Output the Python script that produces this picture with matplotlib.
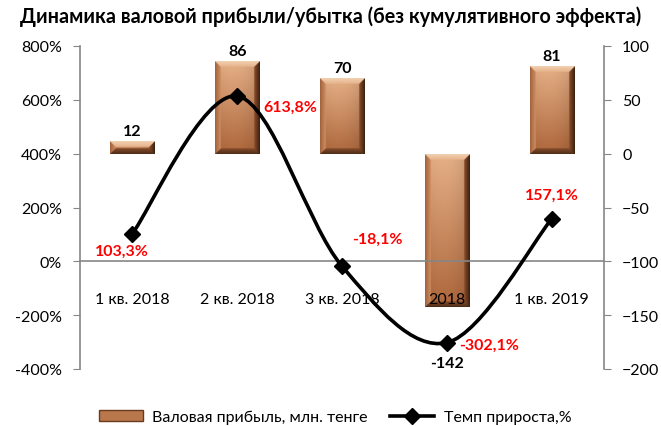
import numpy as np
import matplotlib
matplotlib.use("Agg")
import matplotlib.pyplot as plt
from matplotlib.path import Path
from matplotlib.patches import PathPatch, Rectangle
from matplotlib.lines import Line2D

plt.rcParams['font.family'] = ['Lato', 'DejaVu Sans']

categories = ["1 кв. 2018", "2 кв. 2018", "3 кв. 2018", "2018", "1 кв. 2019"]
gross_profit = [12, 86, 70, -142, 81]            # млн. тенге, right axis
growth_rate = [103.3, 613.8, -18.1, -302.1, 157.1]  # %, left axis
growth_labels = ["103,3%", "613,8%", "-18,1%", "-302,1%", "157,1%"]

# label offsets in pixels (dx, dy)
bar_label_off = [10, 10, 10, -56, 10]
rate_label_off = [(-11, -17), (53, -11), (35, 27), (42, -2), (0, 24)]

GRAY = "#868686"
BAR_W = 0.42


def bevel_image(w, h, b=6):
    w, h = max(int(w), 2), max(int(h), 2)
    yy, xx = np.mgrid[0:h, 0:w]
    dl, dr = xx + 0.5, w - xx - 0.5
    dt, db = yy + 0.5, h - yy - 0.5
    t = yy / max(h - 1, 1)
    top_c = np.array([0.90, 0.69, 0.53])
    bot_c = np.array([0.68, 0.40, 0.23])
    img = top_c * (1 - t[..., None]) + bot_c * t[..., None]
    s = xx / max(w - 1, 1)
    img = img * (1 - 0.10 * (s[..., None] - 0.4) ** 2 * 4)
    dmin = np.minimum.reduce([dl, dr, dt, db])
    facet = np.argmin(np.stack([dt, dl, dr, db]), axis=0)
    depth = (dmin / b)[..., None]
    # top: light peach
    m = (dmin < b) & (facet == 0)
    img[m] = (np.array([0.95, 0.82, 0.70]) * (1 - depth) + np.array([0.90, 0.70, 0.54]) * depth)[m]
    # left: medium
    m = (dmin < b) & (facet == 1)
    img[m] = (np.array([0.62, 0.38, 0.24]) * (1 - depth) + np.array([0.82, 0.56, 0.38]) * depth)[m]
    # right: dark
    m = (dmin < b) & (facet == 2)
    img[m] = (np.array([0.22, 0.12, 0.06]) * (1 - depth) + np.array([0.55, 0.31, 0.17]) * depth)[m]
    # bottom: dark brown
    m = (dmin < b) & (facet == 3)
    img[m] = (np.array([0.30, 0.17, 0.09]) * (1 - depth) + np.array([0.52, 0.30, 0.17]) * depth)[m]
    return np.clip(img, 0, 1)


fig = plt.figure(figsize=(6.61, 4.27), dpi=100)
ax = fig.add_axes([80 / 661, 1 - 370 / 427, 524 / 661, 323 / 427])
ax2 = ax.twinx()
ax.set_zorder(ax2.get_zorder() + 1)
ax.patch.set_visible(False)

x = np.arange(len(categories))

# bars on the secondary axis
ax2.set_ylim(-200, 100)
ax2.set_xlim(-0.5, 4.5)
ax.set_xlim(-0.5, 4.5)
bars = ax2.bar(x, gross_profit, width=BAR_W, color="#c98a5e", edgecolor="none", zorder=2)
ax_w_px = ax.get_position().width * fig.get_figwidth() * fig.dpi
ax_h_px = ax.get_position().height * fig.get_figheight() * fig.dpi
for xi, v, bar in zip(x, gross_profit, bars):
    w_px = BAR_W / 5 * ax_w_px
    h_px = abs(v) / 300 * ax_h_px
    im = ax2.imshow(bevel_image(w_px * 3, h_px * 3, b=17),
                    extent=(xi - BAR_W / 2, xi + BAR_W / 2, min(v, 0), max(v, 0)),
                    aspect="auto", zorder=3, interpolation="bilinear")
    im.set_clip_path(bar)
ax2.set_xlim(-0.5, 4.5)
ax2.set_ylim(-200, 100)
for xi, v, off in zip(x, gross_profit, bar_label_off):
    ax2.annotate(str(v), (xi, v), xytext=(0, off), textcoords="offset pixels",
                 ha="center", va="center", fontsize=11.5, fontweight="bold", color="black")

# smoothed line on the primary axis
pts = np.column_stack([x, growth_rate]).astype(float)
verts = [pts[0]]
codes = [Path.MOVETO]
n = len(pts)
for i in range(n - 1):
    p0 = pts[max(i - 1, 0)]
    p1, p2 = pts[i], pts[i + 1]
    p3 = pts[min(i + 2, n - 1)]
    c1 = p1 + (p2 - p0) / 6
    c2 = p2 - (p3 - p1) / 6
    verts += [c1, c2, p2]
    codes += [Path.CURVE4] * 3
ax.add_patch(PathPatch(Path(verts, codes), facecolor="none", edgecolor="black", lw=2.6, zorder=4,
                       capstyle="round", joinstyle="round"))
ax.plot(x, growth_rate, linestyle="none", marker="D", color="black", markersize=8, zorder=5)
for xi, v, lab, off in zip(x, growth_rate, growth_labels, rate_label_off):
    ax.annotate(lab, (xi, v), xytext=off, textcoords="offset pixels", ha="center", va="center",
                fontsize=11.5, fontweight="bold", color="#ff0000", zorder=6)

ax.set_ylim(-400, 800)
ax.set_yticks(np.arange(-400, 801, 200))
ax.set_yticklabels([f"{t}%" for t in range(-400, 801, 200)])
ax2.set_yticks(np.arange(-200, 101, 50))

# axes styling
ax.spines["bottom"].set_position(("data", 0))
for sp in ["top", "right"]:
    ax.spines[sp].set_visible(False)
for sp in ["top", "left", "bottom"]:
    ax2.spines[sp].set_visible(False)
for sp in ["left", "bottom"]:
    ax.spines[sp].set_color(GRAY)
    ax.spines[sp].set_linewidth(1.2)
ax2.spines["right"].set_color(GRAY)
ax2.spines["right"].set_linewidth(1.2)

ax.set_xticks(np.arange(-0.5, 5, 1))
ax.set_xticklabels([])
ax.set_xticks(x, minor=True)
ax.set_xticklabels(categories, minor=True)
ax.tick_params(axis="x", which="major", direction="in", length=5, color=GRAY)
ax.tick_params(axis="x", which="minor", length=0, pad=22, labelsize=11.5)
ax.tick_params(axis="y", length=5, color=GRAY, labelsize=11.5, pad=8)
ax2.tick_params(axis="y", length=5, color=GRAY, labelsize=11.5, pad=8)
ax2.set_xticks([])

fig.text(0.5, 1 - 17 / 427, "Динамика валовой прибыли/убытка (без кумулятивного эффекта)",
         ha="center", va="center", fontsize=14.2, fontweight="bold")

handles = [Rectangle((0, 0), 1, 1, facecolor="#b8784c", edgecolor="#6b3a1e"),
           Line2D([], [], color="black", lw=2.6, marker="D", markersize=8)]
fig.legend(handles, ["Валовая прибыль, млн. тенге", "Темп прироста,%"], loc="center",
           bbox_to_anchor=(0.507, 1 - 418 / 427), ncol=2, frameon=False, fontsize=11.5,
           handlelength=2.75, handleheight=0.6, columnspacing=1.4, handletextpad=0.6)

fig.savefig("out.png", dpi=100)
